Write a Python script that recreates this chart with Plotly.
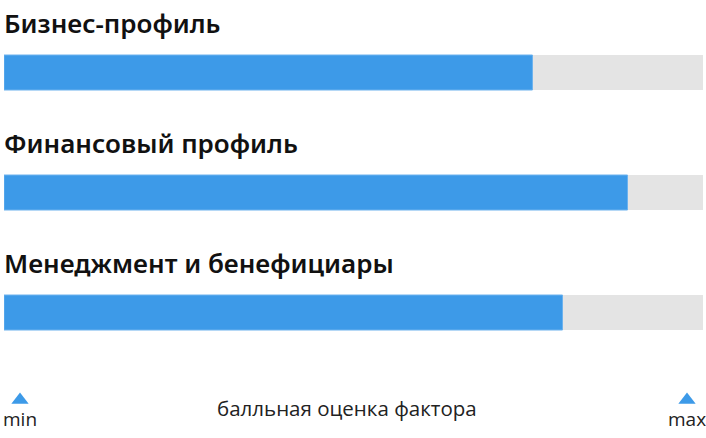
import plotly.graph_objects as go

# factor scores on a 0..100 scale
factors = ["Бизнес-профиль", "Финансовый профиль", "Менеджмент и бенефициары"]
scores = [75.6, 89.2, 79.9]
scale_max = 100
scale_labels = ["min", "max"]
axis_caption = "балльная оценка фактора"

blue = "#3d9ae8"
grey = "#e4e4e4"

W, H = 706, 438
left, right = 4, 3
plot_w = W - left - right

# bar centres in pixel units (y axis runs top-down in pixels)
ys = [72.5 + 120 * i for i in range(len(factors))]

fig = go.Figure()
fig.add_trace(go.Bar(x=[scale_max] * len(factors), y=ys, orientation="h",
                     marker=dict(color=grey, line=dict(width=0)), width=35,
                     hoverinfo="skip"))
fig.add_trace(go.Bar(x=scores, y=ys, orientation="h",
                     marker=dict(color=blue, line=dict(width=1, color="#6cb2ee")),
                     width=35, hoverinfo="skip"))

# min / max markers, inset a little from the bar ends
px_to_x = scale_max / plot_w
mark_x = [(20 - left) * px_to_x, (687 - left) * px_to_x]
fig.add_trace(go.Scatter(x=mark_x, y=[400, 400], mode="markers",
                         marker=dict(symbol="triangle-up", size=15, color=blue),
                         cliponaxis=False, hoverinfo="skip"))

for i, name in enumerate(factors):
    fig.add_annotation(x=0, y=ys[i] - 50, xref="paper", yref="y", text=name,
                       showarrow=False, xanchor="left", yanchor="middle", xshift=-2,
                       font=dict(family="Noto Sans", size=26, color="#111111", weight=600))

for xv, lab in zip(mark_x, scale_labels):
    fig.add_annotation(x=xv, y=419, xref="x", yref="y", text=lab, showarrow=False,
                       xanchor="center", yanchor="middle",
                       font=dict(family="Open Sans", size=19, color="#222222"))

fig.add_annotation(x=0.49, y=408, xref="paper", yref="y", text=axis_caption,
                   showarrow=False, xanchor="center", yanchor="middle",
                   font=dict(family="Open Sans", size=20.5, color="#222222"))

fig.update_layout(
    width=W, height=H, barmode="overlay", showlegend=False,
    margin=dict(l=left, r=right, t=0, b=0),
    paper_bgcolor="white", plot_bgcolor="white",
    xaxis=dict(range=[0, scale_max], visible=False, fixedrange=True),
    yaxis=dict(range=[H, 0], visible=False, fixedrange=True),
)

fig.write_html("out.html", config={"displayModeBar": False},
               post_script="document.body.style.margin='0px';"
                           "document.documentElement.style.overflow='hidden';")
